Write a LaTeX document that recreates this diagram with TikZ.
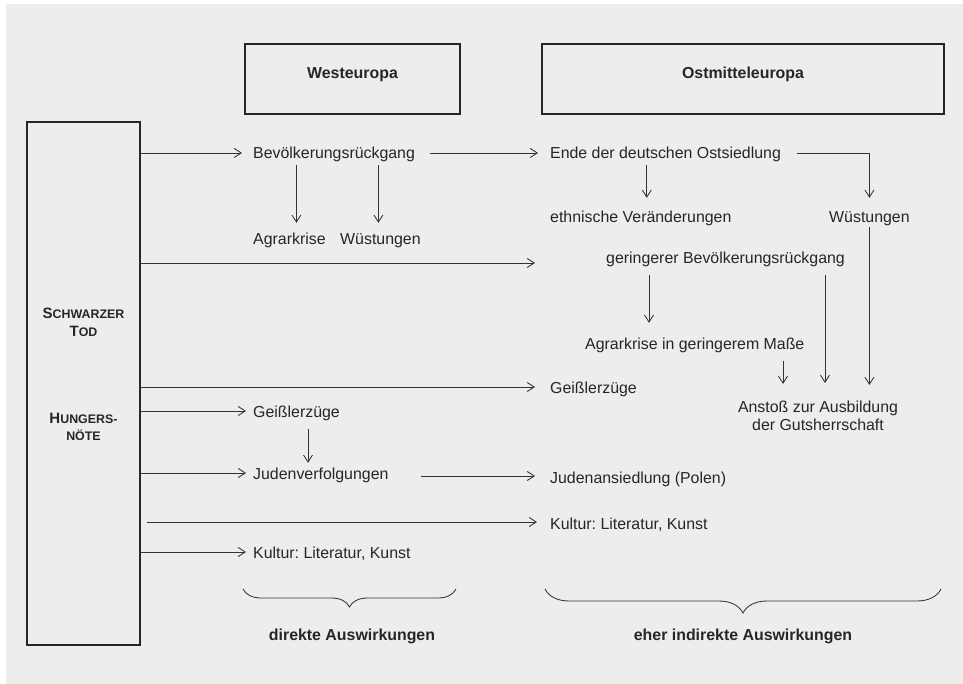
\documentclass[tikz,border=0pt]{standalone}
\usepackage{fontspec}
\setmainfont{Liberation Sans}
\usetikzlibrary{arrows.meta,decorations.pathreplacing,calc}
\definecolor{bgc}{HTML}{EDEDED}
\definecolor{ink}{HTML}{262626}
\definecolor{lncol}{HTML}{333333}
\frenchspacing
\begin{document}
\begin{tikzpicture}[x=1pt,y=-1pt,
  txt/.style={inner sep=0pt, text=ink, font=\fontsize{15.9}{18}\selectfont},
  lbl/.style={txt, anchor=west, text height=12pt, text depth=0pt},
  bold/.style={inner sep=0pt, text=ink, font=\fontsize{15.9}{18}\selectfont\bfseries},
  sc/.style={inner sep=0pt, text=ink, anchor=base, font=\bfseries},
  arr/.style={draw=lncol, line width=0.85pt, -{Straight Barb[length=7pt,width=9pt]}},
  brc/.style={draw=lncol, line width=0.85pt, decorate, decoration={brace, mirror, amplitude=#1}}]
% background
\useasboundingbox (0,0) rectangle (963,684);
\fill[white] (0,0) rectangle (963,684);
\fill[bgc] (6,4) rectangle (975,695);
% header boxes
\node[draw=ink, line width=2pt, minimum width=215pt, minimum height=70pt, inner sep=0pt] (hw) at (352.5,79) {};
\node[draw=ink, line width=2pt, minimum width=402pt, minimum height=70pt, inner sep=0pt] (ho) at (743,79.5) {};
\node[bold, anchor=base] (tw) at (352.5,79) {Westeuropa};
\node[bold, anchor=base] (to) at (743,79) {Ostmitteleuropa};
% source box
\node[draw=ink, line width=1.8pt, minimum width=113pt, minimum height=523pt, inner sep=0pt] (src) at (83.5,383.5) {};
\node[sc] (sch) at (83.5,319) {\fontsize{15}{16}\selectfont S\fontsize{12.4}{16}\selectfont CHWARZER};
\node[sc] (tod) at (83.5,336) {\fontsize{15}{16}\selectfont T\fontsize{12.4}{16}\selectfont OD};
\node[sc] (hun) at (83.5,423) {\fontsize{15}{16}\selectfont H\fontsize{12.4}{16}\selectfont UNGERS-};
\node[sc] (noe) at (83.5,440) {\fontsize{12.4}{16}\selectfont NÖTE};
% text nodes
\node[lbl] (bev) at (253,153) {Bevölkerungsrückgang};
\node[lbl] (ende) at (550,153) {Ende der deutschen Ostsiedlung};
\node[lbl] (agr) at (253,239) {Agrarkrise};
\node[lbl] (wue1) at (340,239) {Wüstungen};
\node[lbl] (eth) at (550,217) {ethnische Veränderungen};
\node[lbl] (wue2) at (829,217) {Wüstungen};
\node[lbl] (ger) at (606,258) {geringerer Bevölkerungsrückgang};
\node[lbl] (agr2) at (585,343) {Agrarkrise in geringerem Maße};
\node[lbl] (geiE) at (550,387) {Geißlerzüge};
\node[txt, align=center] (anst) at (818,416) {Anstoß zur Ausbildung\\der Gutsherrschaft};
\node[lbl] (geiW) at (253,411) {Geißlerzüge};
\node[lbl] (jud) at (253,473) {Judenverfolgungen};
\node[lbl] (judP) at (550,477) {Judenansiedlung (Polen)};
\node[lbl] (kulE) at (550,523) {Kultur: Literatur, Kunst};
\node[lbl] (kulW) at (253,552) {Kultur: Literatur, Kunst};
% arrows
\draw[arr] (src.east |- bev.west) -- ($(bev.west)+(-11,0)$);
\draw[arr] ($(bev.east)+(15,0)$) -- ($(ende.west)+(-12,0)$);
\draw[arr] ($(ende.east)+(16,0)$) -| ($(wue2.north)+(0,-13)$);
\draw[arr] ($(ende.south -| eth.north)+(6,6)$) -- ($(eth.north)+(6,-13)$);
\draw[arr] ($(bev.south -| agr.north)+(7,6)$) -- ($(agr.north)+(7,-10)$);
\draw[arr] ($(bev.south -| wue1.north)+(-2,6)$) -- ($(wue1.north)+(-2,-10)$);
\draw[arr] ($(src.east |- ger.west)+(0,5)$) -- ($(ger.west)+(-71,5)$);
\draw[arr] ($(ger.south -| agr2.west)+(64,11)$) -- ($(agr2.north -| agr2.west)+(64,-14)$);
\draw[arr] ($(ger.south -| anst.north)+(7,11)$) -- ($(anst.north)+(7,-18)$);
\draw[arr] ($(agr2.south -| anst.north)+(-35,12)$) -- ($(anst.north)+(-35,-17)$);
\draw[arr] ($(wue2.south)+(0,4)$) -- ($(wue2.south |- anst.north)+(0,-16)$);
\draw[arr] (src.east |- geiE.west) -- ($(geiE.west)+(-15,0)$);
\draw[arr] (src.east |- geiW.west) -- ($(geiW.west)+(-7,0)$);
\draw[arr] ($(geiW.south -| geiW.west)+(55,12)$) -- ($(jud.north -| geiW.west)+(55,-4)$);
\draw[arr] (src.east |- jud.west) -- ($(jud.west)+(-7,0)$);
\draw[arr] ($(jud.east)+(32,3)$) -- ($(judP.west)+(-15,-1)$);
\coordinate (kstart) at ($(src.east |- kulE.west)+(6,-1)$);
\draw[arr] (kstart) -- ($(kulE.west)+(-13,-1)$);
\draw[arr] (src.east |- kulW.west) -- ($(kulW.west)+(-7,0)$);
% braces
\draw[brc=18pt] (243,589) -- (456,589);
\draw[brc=24pt] (545,589) -- (941,589);
\node[bold, anchor=base] (da) at (352,640) {direkte Auswirkungen};
\node[bold, anchor=base] (ia) at (743,640) {eher indirekte Auswirkungen};
\end{tikzpicture}
\end{document}
